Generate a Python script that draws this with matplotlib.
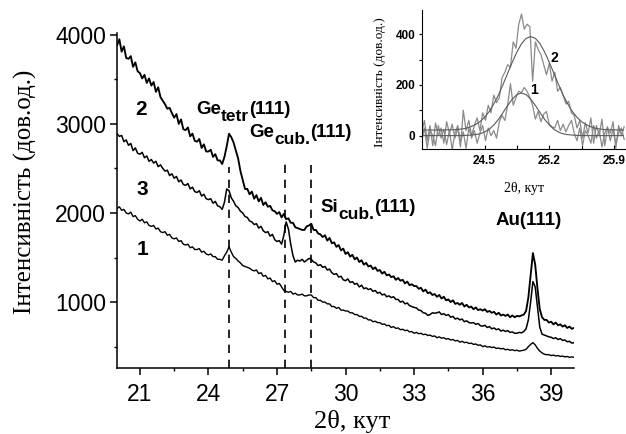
import numpy as np
import matplotlib
matplotlib.use('Agg')
import matplotlib.pyplot as plt

plt.rcParams['font.family'] = ['Liberation Sans', 'DejaVu Sans']

# main XRD patterns, 2theta from 20 to 40 with 0.1 step
two_theta = np.linspace(20, 40, 201)

curve2 = [3880, 3950, 3810, 3870, 3740, 3730, 3760, 3640, 3690, 3590,
          3570, 3510, 3550, 3460, 3510, 3430, 3470, 3360, 3410, 3300,
          3260, 3220, 3170, 3180, 3120, 3070, 3110, 3000, 3050, 2940,
          2930, 2960, 2860, 2890, 2810, 2800, 2830, 2730, 2770, 2690,
          2690, 2710, 2630, 2660, 2590, 2590, 2550, 2630, 2750, 2890,
          2850, 2790, 2700, 2610, 2470, 2370, 2270, 2270, 2210, 2240,
          2160, 2200, 2130, 2170, 2090, 2120, 2070, 2080, 2030, 2020,
          1990, 2010, 1950, 1990, 1930, 1940, 1890, 1890, 1840, 1830,
          1820, 1810, 1810, 1850, 1860, 1880, 1810, 1810, 1770, 1760,
          1730, 1750, 1690, 1720, 1660, 1670, 1620, 1640, 1580, 1600,
          1540, 1560, 1510, 1530, 1480, 1500, 1450, 1470, 1420, 1440,
          1400, 1410, 1370, 1390, 1350, 1360, 1320, 1340, 1300, 1310,
          1280, 1290, 1250, 1270, 1240, 1250, 1210, 1230, 1190, 1200,
          1180, 1180, 1150, 1160, 1120, 1140, 1100, 1110, 1080, 1090,
          1060, 1080, 1040, 1060, 1020, 1030, 1000, 1020, 980, 990,
          970, 990, 950, 970, 940, 950, 920, 940, 910, 920,
          905, 920, 890, 900, 880, 890, 860, 880, 850, 860,
          845, 860, 830, 850, 830, 845, 840, 850, 860, 900,
          1050, 1300, 1550, 1420, 1150, 920, 830, 800, 800, 770,
          780, 750, 770, 740, 750, 725, 740, 710, 725, 700, 710]

curve3 = [2890, 2860, 2870, 2800, 2820, 2760, 2780, 2700, 2730, 2670,
          2660, 2680, 2620, 2640, 2580, 2600, 2560, 2580, 2520, 2540,
          2500, 2470, 2480, 2420, 2440, 2390, 2410, 2350, 2370, 2320,
          2310, 2330, 2270, 2290, 2240, 2230, 2250, 2190, 2210, 2160,
          2150, 2160, 2110, 2130, 2080, 2070, 2040, 2120, 2270, 2250,
          2170, 2130, 2080, 2060, 2020, 2000, 1960, 1950, 1910, 1900,
          1870, 1880, 1830, 1850, 1800, 1780, 1790, 1740, 1760, 1700,
          1680, 1690, 1650, 1750, 1900, 1820, 1650, 1520, 1450, 1470,
          1460, 1480, 1450, 1470, 1490, 1480, 1450, 1440, 1410, 1420,
          1390, 1400, 1360, 1370, 1330, 1310, 1320, 1280, 1290, 1250,
          1240, 1260, 1220, 1230, 1200, 1210, 1170, 1190, 1150, 1160,
          1140, 1150, 1120, 1130, 1100, 1110, 1080, 1090, 1060, 1070,
          1050, 1060, 1030, 1030, 1000, 1010, 980, 990, 960, 950,
          940, 935, 910, 905, 880, 875, 850, 860, 880, 875,
          880, 890, 860, 870, 850, 860, 830, 840, 810, 820,
          800, 810, 780, 790, 770, 765, 770, 750, 760, 735,
          730, 740, 715, 725, 700, 710, 690, 700, 675, 685,
          670, 680, 660, 665, 650, 650, 660, 655, 670, 700,
          800, 1000, 1230, 1170, 950, 720, 640, 630, 620, 610,
          605, 590, 600, 580, 590, 570, 575, 555, 560, 540, 545]

curve1 = [2050, 2070, 2030, 2040, 2000, 1990, 2010, 1960, 1970, 1930,
          1910, 1930, 1890, 1900, 1860, 1850, 1860, 1820, 1830, 1790,
          1780, 1790, 1750, 1760, 1720, 1710, 1720, 1680, 1690, 1650,
          1640, 1650, 1610, 1620, 1590, 1590, 1600, 1560, 1570, 1540,
          1530, 1540, 1510, 1510, 1480, 1480, 1470, 1520, 1560, 1620,
          1560, 1510, 1490, 1460, 1440, 1410, 1400, 1390, 1380, 1360,
          1350, 1360, 1320, 1330, 1290, 1300, 1260, 1270, 1230, 1240,
          1200, 1210, 1170, 1130, 1120, 1110, 1120, 1090, 1100, 1080,
          1080, 1090, 1070, 1070, 1080, 1080, 1050, 1050, 1020, 1020,
          1000, 1000, 980, 980, 950, 950, 930, 940, 910, 910,
          900, 900, 880, 880, 860, 860, 840, 840, 820, 820,
          800, 800, 780, 785, 770, 770, 750, 755, 735, 740,
          715, 725, 705, 710, 690, 695, 680, 685, 665, 670,
          650, 660, 645, 650, 635, 640, 625, 630, 615, 620,
          600, 610, 595, 600, 585, 590, 575, 580, 565, 570,
          550, 560, 545, 550, 535, 540, 525, 530, 515, 520,
          500, 510, 495, 500, 490, 495, 480, 485, 475, 480,
          465, 470, 460, 465, 455, 460, 450, 455, 460, 470,
          500, 525, 545, 520, 480, 450, 430, 415, 410, 410,
          400, 405, 395, 400, 390, 395, 385, 390, 380, 385, 380]

# reflection markers
peak_pos = [24.92, 27.37, 28.49]
peak_top = [2520, 2560, 2540]

# inset: Ge_tetr(111) peak after background subtraction
inset_theta = np.linspace(23.82, 26.01, 74)
inset2 = [10, 60, -20, 40, -40, 50, 0, 30, -30, 55,
          10, 45, -10, 30, -45, 100, 20, 60, 0, 40,
          70, 20, 90, 60, 120, 90, 160, 130, 150, 230,
          250, 280, 270, 370, 345, 440, 480, 420, 440, 430,
          215, 370, 340, 320, 280, 240, 285, 215, 250, 175,
          190, 160, 125, 135, 90, 80, 30, 60, -10, 50,
          10, 70, -30, 40, 0, 65, -40, 30, 10, 55,
          -50, 40, 0, 35]
inset1 = [-20, 30, -50, 20, 0, -40, 40, -10, 25, -35,
          20, -55, 10, 40, -25, 15, -50, 30, -10, 20,
          -30, 10, 40, -20, 30, 0, 20, -10, 55, 80,
          60, 120, 205, 120, 150, 175, 170, 190, 175, 150,
          120, 65, 95, 55, 85, 95, 45, 35, 30, 60,
          20, 45, 15, 40, 60, 10, -20, 30, -40, 20,
          0, -30, 40, -10, 20, -45, 10, 35, -20, 25,
          -35, 10, 30, -15]

fit_theta = np.linspace(23.8, 26.0, 45)
fit2 = [22, 22, 22, 22, 22, 22, 23, 23, 24, 26,
        29, 35, 43, 55, 72, 95, 125, 160, 202, 246,
        290, 330, 363, 384, 391, 384, 363, 330, 290, 246,
        202, 160, 125, 95, 72, 55, 43, 35, 29, 26,
        24, 23, 23, 22, 22]
fit1 = [0, 0, 0, 0, 0, 0, 0, 0, 0, 0,
        1, 2, 4, 7, 14, 25, 42, 64, 91, 119,
        144, 162, 168, 162, 144, 119, 91, 64, 42, 25,
        14, 7, 4, 2, 1, 0, 0, 0, 0, 0,
        0, 0, 0, 0, 0]


def phase_label(ax, x, y, main, sub, tail):
    # main text, lowered subscript and the (hkl) part on the main baseline
    t1 = ax.text(x, y, main, fontsize=13.5, fontweight='bold')
    t2 = ax.annotate(sub, xy=(1, 0.12), xycoords=t1, fontsize=12.5,
                     fontweight='bold', va='center', ha='left')
    ax.annotate(tail, xy=(1, y), xycoords=(t2, 'data'), fontsize=13.5,
                fontweight='bold', va='baseline', ha='left')


fig = plt.figure(figsize=(6.26, 4.34), dpi=100)
ax = fig.add_axes([0.187, 0.152, 0.730, 0.772])

ax.plot(two_theta, curve2, color='black', lw=1.35)
ax.plot(two_theta, curve3, color='black', lw=1.1)
ax.plot(two_theta, curve1, color='black', lw=1.0)
ax.vlines(peak_pos, 260, peak_top, colors='black', lw=1.2, linestyles=(0, (5, 4)))

ax.set_xlim(20, 40)
ax.set_ylim(260, 4020)
ax.set_xticks([21, 24, 27, 30, 33, 36, 39])
ax.set_xticks(np.arange(22.5, 40, 3), minor=True)
ax.set_yticks([1000, 2000, 3000, 4000])
ax.set_yticks([500, 1500, 2500, 3500], minor=True)
for s in ['top', 'right']:
    ax.spines[s].set_visible(False)
for s in ['left', 'bottom']:
    ax.spines[s].set_linewidth(1.1)
ax.tick_params(which='major', direction='out', length=5, width=1.1, labelsize=16.5, pad=3)
ax.tick_params(which='minor', direction='out', length=2.5, width=1.0)
ax.tick_params(axis='x', which='major', pad=6)

ax.set_ylabel('Інтенсивність (дов.од.)', family=['Liberation Serif', 'DejaVu Serif'], fontsize=18)
ax.yaxis.set_label_coords(-0.175, 0.525)
ax.set_xlabel('2θ, кут', family=['Liberation Serif', 'DejaVu Serif'], fontsize=19)
ax.xaxis.set_label_coords(0.515, -0.125)

# curve numbers
ax.text(21.05, 3160, '2', fontsize=15, fontweight='bold', ha='center', va='center')
ax.text(21.1, 2260, '3', fontsize=15, fontweight='bold', ha='center', va='center')
ax.text(21.1, 1585, '1', fontsize=15, fontweight='bold', ha='center', va='center')

# reflection labels
phase_label(ax, 23.47, 3110, 'Ge', 'tetr', '(111)')
phase_label(ax, 25.8, 2850, 'Ge', 'cub.', '(111)')
phase_label(ax, 28.9, 2010, 'Si', 'cub.', '(111)')
ax.text(36.56, 1865, 'Au(111)', fontsize=13.5, fontweight='bold')

# inset
axi = fig.add_axes([0.6736, 0.656, 0.3264, 0.321])
axi.plot(inset_theta, inset2, color='#8a8a8a', lw=0.9)
axi.plot(inset_theta, inset1, color='#8a8a8a', lw=0.9)
axi.plot(fit_theta, fit2, color='#5a5a5a', lw=0.8)
axi.plot(fit_theta, fit1, color='#5a5a5a', lw=0.8)
axi.set_xlim(23.82, 26.03)
axi.set_ylim(-54, 496)
axi.set_xticks([24.5, 25.2, 25.9])
axi.set_xticklabels(['24.5', '25.2', '25.9'])
axi.set_xticks([24.15, 24.85, 25.55], minor=True)
axi.set_yticks([0, 200, 400])
axi.set_yticks([100, 300], minor=True)
for s in ['top', 'right']:
    axi.spines[s].set_visible(False)
axi.tick_params(axis='x', which='both', direction='in', length=3, width=0.8, labelsize=8.5, pad=4)
axi.tick_params(axis='y', which='both', direction='out', length=2.5, width=0.8, labelsize=8.5, pad=2)
for lab in axi.get_xticklabels() + axi.get_yticklabels():
    lab.set_fontweight('bold')
axi.set_ylabel('Інтенсивність (дов.од.)', family=['Liberation Serif', 'DejaVu Serif'], fontsize=9.5)
axi.yaxis.set_label_coords(-0.175, 0.483)
axi.set_xlabel('2θ, кут', family=['Liberation Serif', 'DejaVu Serif'], fontsize=10)
axi.xaxis.set_label_coords(0.5, -0.235)
axi.text(25.25, 306, '2', fontsize=10, fontweight='bold', ha='center', va='center')
axi.text(25.03, 181, '1', fontsize=10, fontweight='bold', ha='center', va='center')

fig.savefig('out.png', dpi=100)
